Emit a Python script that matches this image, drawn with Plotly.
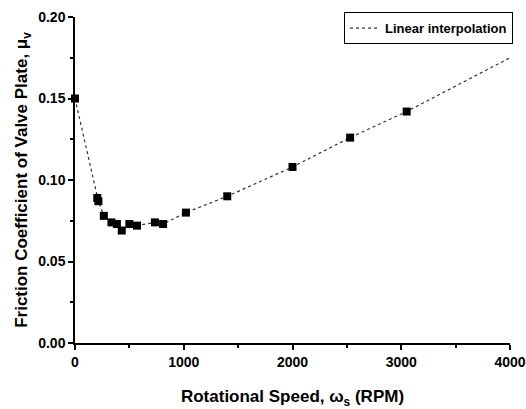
import plotly.graph_objects as go

rpm = [0, 205, 215, 265, 335, 385, 430, 500, 570, 735, 810, 1020, 1400, 2000, 2530, 3050]
mu = [0.150, 0.089, 0.087, 0.078, 0.074, 0.073, 0.069, 0.073, 0.072, 0.074, 0.073, 0.080, 0.090, 0.108, 0.126, 0.142]
interp_rpm = rpm + [4000]
interp_mu = mu + [0.175]

font_family = "Liberation Sans, Arial, sans-serif"

fig = go.Figure()
fig.add_trace(go.Scatter(
    x=interp_rpm, y=interp_mu, mode="lines", name="Linear interpolation",
    line=dict(color="#333333", width=1.2, dash="dot"), showlegend=True))
fig.add_trace(go.Scatter(
    x=rpm, y=mu, mode="markers", showlegend=False, cliponaxis=False,
    marker=dict(symbol="square", size=8, color="black")))

fig.update_layout(
    width=526, height=409,
    margin=dict(l=75, r=16, t=17, b=66, autoexpand=False),
    plot_bgcolor="white", paper_bgcolor="white",
    font=dict(family=font_family, size=12, color="black", weight="bold"),
    legend=dict(x=1.007, y=1.015, xanchor="right", yanchor="top",
                bordercolor="black", borderwidth=1, bgcolor="white",
                itemwidth=30, tracegroupgap=0,
                font=dict(size=13, weight="bold")),
    xaxis=dict(range=[0, 4000], tickvals=[0, 1000, 2000, 3000, 4000],
               automargin=False,
               showline=True, linecolor="black", linewidth=1.5,
               ticks="outside", ticklen=5, tickwidth=1.5, tickcolor="black",
               minor=dict(dtick=500, ticks="outside", ticklen=3, tickcolor="black"),
               showgrid=False, zeroline=False,
               tickfont=dict(size=14, weight="bold"),
               title=dict(text="Rotational Speed, ω<sub>s</sub> (RPM)", standoff=24,
                          font=dict(size=17, weight="bold"))),
    yaxis=dict(range=[0, 0.2], tickvals=[0, 0.05, 0.10, 0.15, 0.20], tickformat=".2f",
               automargin=False,
               showline=True, linecolor="black", linewidth=1.5,
               ticks="outside", ticklen=5, tickwidth=1.5, tickcolor="black",
               minor=dict(dtick=0.025, ticks="outside", ticklen=3, tickcolor="black"),
               showgrid=False, zeroline=False,
               tickfont=dict(size=14, weight="bold"),
               title=dict(text="Friction Coefficient of Valve Plate, μ<sub>v</sub>", standoff=6,
                          font=dict(size=17, weight="bold"))),
)

fig.write_html("out.html")
